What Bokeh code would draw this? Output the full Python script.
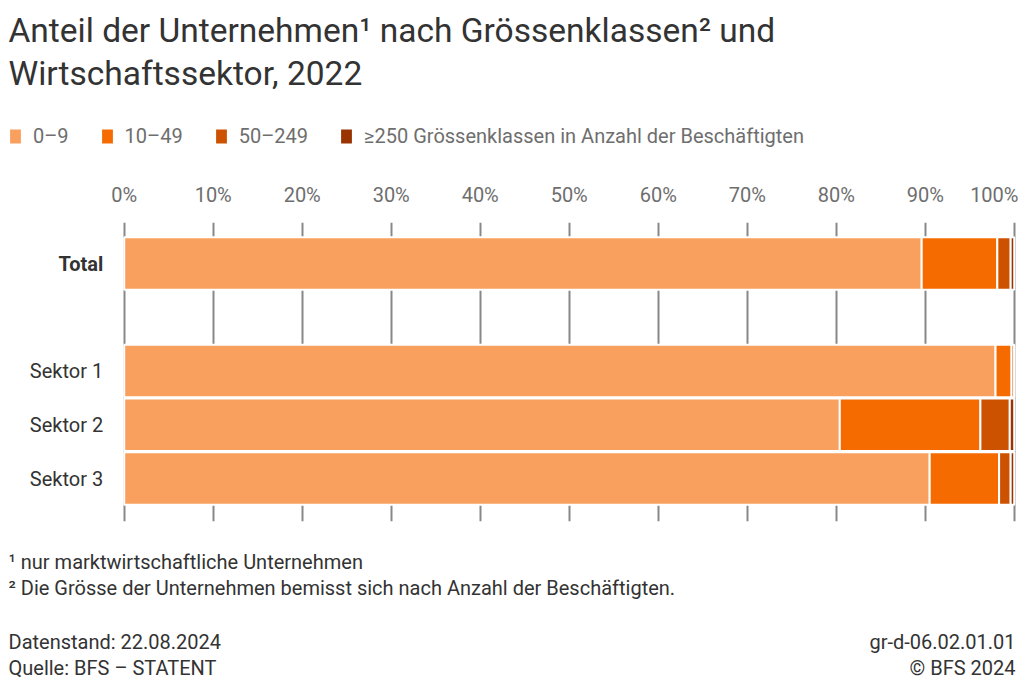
from bokeh.plotting import figure
from bokeh.layouts import column
from bokeh.models import (ColumnDataSource, Range1d, FixedTicker, PrintfTickFormatter,
                          Label, Legend, LegendItem)
from bokeh.embed import file_html
from bokeh.resources import INLINE

# ---- data ----
categories = ["Total", "Sektor 1", "Sektor 2", "Sektor 3"]
row_pos = [0, 2, 3, 4]  # Total, blank row, then the three sectors
size_classes = ["0–9", "10–49", "50–249", "≥250 Grössenklassen in Anzahl der Beschäftigten"]
share_0_9 = [89.6, 97.9, 80.4, 90.5]
share_10_49 = [8.5, 1.8, 15.8, 7.8]
share_50_249 = [1.5, 0.3, 3.3, 1.3]
share_250 = [0.4, 0.0, 0.5, 0.4]
tick_values = [0, 10, 20, 30, 40, 50, 60, 70, 80, 90, 100]
colors = ["#F9A05E", "#F56B00", "#CD5200", "#993300"]

title_lines = ["Anteil der Unternehmen¹ nach Grössenklassen² und", "Wirtschaftssektor, 2022"]
footnotes = ["¹ nur marktwirtschaftliche Unternehmen",
             "² Die Grösse der Unternehmen bemisst sich nach Anzahl der Beschäftigten."]
source_left = ["Datenstand: 22.08.2024", "Quelle: BFS – STATENT"]
source_right = ["gr-d-06.02.01.01", "© BFS 2024"]

FONT = "Roboto"
DARK = "#333333"
GREY = "#6e6e6e"
W = 1018

stackers = ["s0", "s1", "s2", "s3"]
src = ColumnDataSource(dict(y=row_pos, cat=categories, s0=share_0_9, s1=share_10_49,
                            s2=share_50_249, s3=share_250))


def plain(fig):
    fig.outline_line_color = None
    fig.background_fill_color = "white"
    fig.border_fill_color = "white"
    fig.grid.visible = False


def add_text(fig, txt, sx, sy, size, color, align="left"):
    fig.add_layout(Label(x=sx, y=sy, x_units="screen", y_units="screen", text=txt,
                         text_align=align, text_baseline="middle", text_font=FONT,
                         text_font_size=size, text_color=color))


# ---- header: title + legend ----
HH = 160
head = figure(width=W, height=HH, x_range=Range1d(-20, -10), y_range=Range1d(-20, -10),
              x_axis_location=None, y_axis_location=None, output_backend="svg",
              toolbar_location=None, min_border=0)
plain(head)
head_r = head.hbar_stack(stackers, y="y", height=0.98, color=colors, source=src,
                         line_color="white", line_width=2)
add_text(head, title_lines[0], 8, HH - 30, "33.5px", DARK)
add_text(head, title_lines[1], 8, HH - 73, "33.5px", DARK)
legend = Legend(items=[LegendItem(label=lab, renderers=[r]) for lab, r in zip(size_classes, head_r)],
                orientation="horizontal", location=(7, HH - 148),
                border_line_color=None, background_fill_alpha=0, padding=0, margin=0,
                spacing=30, label_standoff=10, glyph_width=16, glyph_height=20,
                label_text_font=FONT, label_text_font_size="20px", label_text_color=GREY,
                label_height=20)
head.add_layout(legend)

# ---- main chart ----
FRAME_TOP, FRAME_BOTTOM, MAIN_BOTTOM = 222, 521, 530
p = figure(width=W, height=MAIN_BOTTOM - HH,
           x_range=Range1d(-13.9, 100.48), y_range=Range1d(4.8, -0.763),
           x_axis_location="above", y_axis_location=None, output_backend="svg",
           toolbar_location=None, min_border_left=0, min_border_right=0,
           min_border_top=FRAME_TOP - HH, min_border_bottom=MAIN_BOTTOM - FRAME_BOTTOM)
plain(p)
p.hbar_stack(stackers, y="y", height=0.98, color=colors, source=src,
             line_color="white", line_width=2)

xa = p.xaxis[0]
xa.ticker = FixedTicker(ticks=tick_values)
xa.formatter = PrintfTickFormatter(format="%d%%")
xa.axis_line_color = None
xa.major_tick_line_color = None
xa.minor_tick_line_color = None
xa.major_label_standoff = 10
xa.major_label_text_font = FONT
xa.major_label_text_font_size = "20px"
xa.major_label_text_color = GREY

p.xgrid.visible = True
p.xgrid.ticker = FixedTicker(ticks=tick_values)
p.xgrid.grid_line_color = "#888888"
p.xgrid.grid_line_width = 2

for cat, yv in zip(categories, row_pos):
    p.add_layout(Label(x=0, y=yv, x_offset=-21, text=cat, text_align="right",
                       text_baseline="middle", text_font=FONT, text_font_size="20px",
                       text_color=DARK, text_font_style="bold" if cat == "Total" else "normal"))

# ---- footer ----
FH = 158
foot = figure(width=W, height=FH, x_range=Range1d(0, 1), y_range=Range1d(0, 1),
              x_axis_location=None, y_axis_location=None, output_backend="svg",
              toolbar_location=None, min_border=0)
plain(foot)
add_text(foot, footnotes[0], 8, FH - (561 - MAIN_BOTTOM), "20px", DARK)
add_text(foot, footnotes[1], 8, FH - (587 - MAIN_BOTTOM), "20px", DARK)
add_text(foot, source_left[0], 8, FH - (641 - MAIN_BOTTOM), "20px", DARK)
add_text(foot, source_left[1], 8, FH - (667 - MAIN_BOTTOM), "20px", DARK)
add_text(foot, source_right[0], 1015, FH - (641 - MAIN_BOTTOM), "20px", DARK, "right")
add_text(foot, source_right[1], 1015, FH - (667 - MAIN_BOTTOM), "20px", DARK, "right")

layout = column(head, p, foot, spacing=0)
open("out.html", "w").write(file_html(layout, INLINE))
